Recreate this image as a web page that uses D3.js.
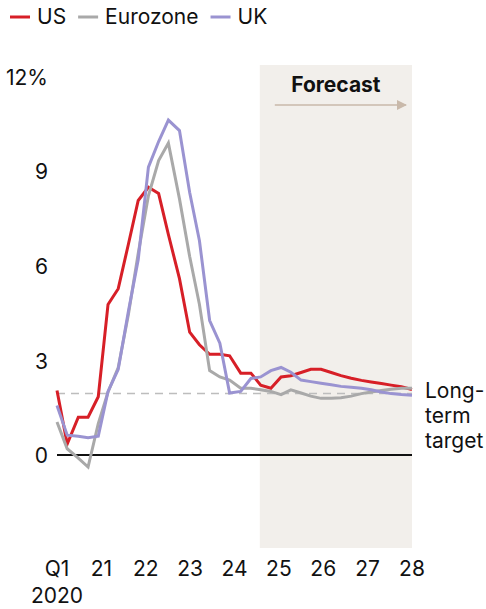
<!DOCTYPE html>
<html><head><meta charset="utf-8">
<script src="https://cdn.jsdelivr.net/npm/d3@7"></script>
<style>
html,body{margin:0;padding:0;background:#fff;}
svg text{font-family:Inter,"Noto Sans",sans-serif;fill:#111;}
</style></head>
<body><svg id="chart" width="486" height="609"></svg>
<script>
// decimal-year time points
const dates = [2020.00,2020.23,2020.48,2020.70,2020.93,2021.15,2021.38,2021.61,2021.83,2022.06,
  2022.29,2022.51,2022.76,2022.99,2023.21,2023.44,2023.67,2023.89,2024.14,2024.37,
  2024.59,2024.82,2025.05,2025.27,2025.50,2025.72,2025.95,2026.18,2026.40,2026.63,
  2026.86,2027.08,2027.31,2027.53,2027.76,2028.00];
const us = [2.05,0.35,1.2,1.2,1.85,4.78,5.28,6.7,8.08,8.5,
  8.3,7.0,5.6,3.9,3.5,3.2,3.2,3.15,2.6,2.6,
  2.22,2.12,2.48,2.52,2.62,2.72,2.72,2.62,2.52,2.44,
  2.37,2.32,2.27,2.22,2.17,2.08];
const eurozone = [1.05,0.2,-0.1,-0.38,1.0,2.0,2.78,4.47,6.4,8.23,
  9.35,9.9,8.13,6.3,4.78,2.68,2.48,2.38,2.12,2.12,
  2.07,2.02,1.92,2.07,1.97,1.87,1.8,1.8,1.82,1.87,
  1.95,2.0,2.05,2.09,2.12,2.12];
const uk = [1.57,0.63,0.6,0.55,0.6,2.02,2.72,4.57,6.2,9.14,
  9.95,10.63,10.3,8.33,6.8,4.27,3.55,1.97,2.02,2.43,
  2.48,2.68,2.78,2.63,2.38,2.33,2.28,2.23,2.18,2.15,
  2.12,2.07,2.0,1.95,1.92,1.9];
const seriesNames = ["US","Eurozone","UK"];
const seriesColors = ["#d71f27","#a9a9a9","#9a93d1"];
const yTicks = [0,3,6,9,12];
const xTicks = [2020,2021,2022,2023,2024,2025,2026,2027,2028];
const xTickLabels = ["Q1","21","22","23","24","25","26","27","28"];
const forecastStart = 2024.57;
const targetValue = 1.95;

const svg = d3.select("#chart");
const x = d3.scaleLinear().domain([2020,2028]).range([57,412]);
const y = d3.scaleLinear().domain([-2.95,12.38]).range([548,65]);
const FS = 21;

// forecast shading
svg.append("rect").attr("x",x(forecastStart)).attr("y",y(12.38))
  .attr("width",x(2028)-x(forecastStart)).attr("height",y(-2.95)-y(12.38))
  .attr("fill","#f2efeb");
svg.append("text").attr("x",(x(forecastStart)+x(2028))/2).attr("y",92)
  .attr("text-anchor","middle").attr("font-size",21).attr("font-weight",700).text("Forecast");
svg.append("defs").append("marker").attr("id","ah").attr("viewBox","0 0 10 10")
  .attr("refX",9).attr("refY",5).attr("markerWidth",10).attr("markerHeight",10)
  .attr("markerUnits","userSpaceOnUse").attr("orient","auto")
  .append("path").attr("d","M0,0L10,5L0,10Z").attr("fill","#c9b9aa");
svg.append("line").attr("x1",x(forecastStart)+15).attr("x2",x(2028)-6)
  .attr("y1",105).attr("y2",105).attr("stroke","#c9b9aa").attr("stroke-width",1.5)
  .attr("marker-end","url(#ah)");

// target line
svg.append("line").attr("x1",x(2020)).attr("x2",x(2028))
  .attr("y1",y(targetValue)).attr("y2",y(targetValue))
  .attr("stroke","#bdbdbd").attr("stroke-width",1.5).attr("stroke-dasharray","8,6");
// zero line
svg.append("line").attr("x1",x(2020)).attr("x2",x(2028))
  .attr("y1",y(0)).attr("y2",y(0)).attr("stroke","#111").attr("stroke-width",2);

// lines
const line = d3.line().x((d,i)=>x(dates[i])).y(d=>y(d));
[us,eurozone,uk].forEach((s,k)=>{
  svg.append("path").datum(s).attr("d",line).attr("fill","none")
    .attr("stroke",seriesColors[k]).attr("stroke-width",3).attr("stroke-linejoin","miter");
});

// y axis labels
yTicks.forEach(t=>{
  svg.append("text").attr("x",48).attr("y",y(t)+8).attr("text-anchor","end")
    .attr("font-size",FS).text(t===12 ? "12%" : t);
});
// x axis labels
xTicks.forEach((t,i)=>{
  svg.append("text").attr("x",x(t)).attr("y",576).attr("text-anchor","middle")
    .attr("font-size",FS).text(xTickLabels[i]);
});
svg.append("text").attr("x",x(2020)).attr("y",603).attr("text-anchor","middle")
  .attr("font-size",FS).text("2020");

// target annotation
["Long-","term","target"].forEach((s,i)=>{
  svg.append("text").attr("x",425).attr("y",398+i*25).attr("font-size",FS).text(s);
});

// legend
let lx = 10;
seriesNames.forEach((n,k)=>{
  svg.append("line").attr("x1",lx).attr("x2",lx+20).attr("y1",17).attr("y2",17)
    .attr("stroke",seriesColors[k]).attr("stroke-width",3);
  const t = svg.append("text").attr("x",lx+27).attr("y",24).attr("font-size",FS).text(n);
  lx += 27 + t.node().getComputedTextLength() + 12;
});
</script></body></html>
